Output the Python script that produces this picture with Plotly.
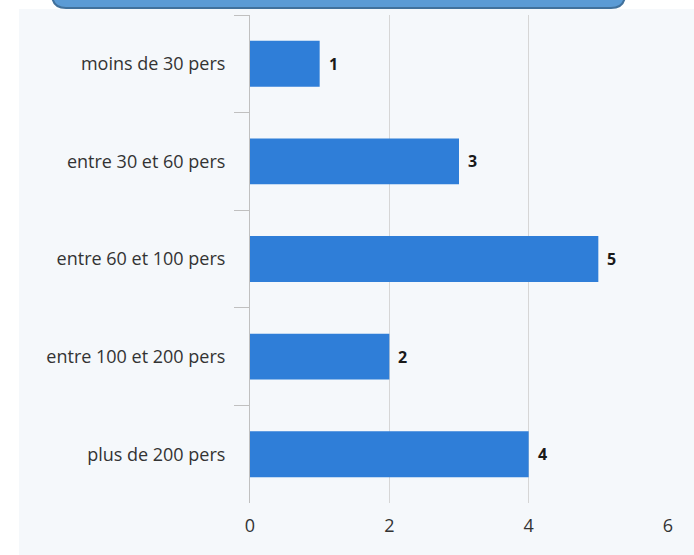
import plotly.graph_objects as go

categories = ["moins de 30 pers", "entre 30 et 60 pers", "entre 60 et 100 pers",
              "entre 100 et 200 pers", "plus de 200 pers"]
values = [1, 3, 5, 2, 4]
x_ticks = [0, 2, 4, 6]

W, H = 694, 555
L, R, T, B = 250, 26, 15, 52
pw, ph = W - L - R, H - T - B
FONT = "Open Sans, sans-serif"

def px2x(px):
    return (px - L) / pw

def px2y(py):
    return 1 - (py - T) / ph

fig = go.Figure(go.Bar(
    x=values, y=categories, orientation="h",
    marker=dict(color="#2f7ed8", line=dict(width=0)),
    width=0.47,
    hoverinfo="skip",
))

for c, v in zip(categories, values):
    fig.add_annotation(x=v, y=c, text=f"<b>{v}</b>", showarrow=False,
                       xanchor="left", xshift=7,
                       font=dict(family=FONT, size=16, color="#1a1a1a"))

# panel background
fig.add_shape(type="rect", xref="paper", yref="paper",
              x0=px2x(19), x1=px2x(W + 5), y0=px2y(9), y1=px2y(H + 5),
              fillcolor="#f5f8fb", line=dict(width=0), layer="below")

# top rounded box
x0, x1, y0, y1, r = px2x(52), px2x(625), px2y(-20), px2y(8), 14
rx, ry = r / pw, r / ph
path = (f"M {x0},{y0} L {x1},{y0} L {x1},{y1 + ry} "
        f"Q {x1},{y1} {x1 - rx},{y1} L {x0 + rx},{y1} Q {x0},{y1} {x0},{y1 + ry} Z")
fig.add_shape(type="path", xref="paper", yref="paper", path=path,
              fillcolor="#5b9bd5", line=dict(color="#41719c", width=2), layer="above")

fig.update_layout(
    width=W, height=H,
    margin=dict(l=L, r=R, t=T, b=B),
    paper_bgcolor="white", plot_bgcolor="rgba(0,0,0,0)",
    font=dict(family=FONT, size=18, color="#333"),
    showlegend=False,
)
fig.update_xaxes(range=[0, 6], tickvals=x_ticks, showgrid=True, gridcolor="#d6d6d6",
                 gridwidth=1, zeroline=False, showline=False, ticks="",
                 ticklabelstandoff=10,
                 tickfont=dict(family=FONT, size=18, color="#333"), fixedrange=True)
fig.update_yaxes(autorange="reversed", showline=True, linecolor="#c0c0c0", linewidth=1,
                 ticks="outside", tickson="boundaries", ticklen=15, tickcolor="#c0c0c0",
                 showgrid=False, ticklabelstandoff=20, fixedrange=True,
                 tickfont=dict(family=FONT, size=18, color="#333"))

fig.write_html("out.html", config={"displayModeBar": False},
               post_script="document.body.style.margin='0';")
